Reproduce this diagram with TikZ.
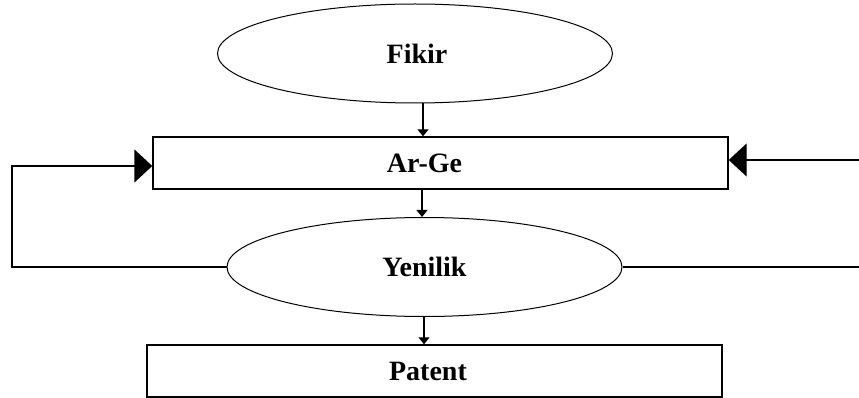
\documentclass[tikz,border=0pt]{standalone}
\usepackage{fontspec}
\setmainfont{Liberation Serif}
\usetikzlibrary{shapes.geometric,arrows.meta}
\tikzset{
  oval/.style={draw, ellipse, line width=1pt, minimum width=395pt, minimum height=99pt, inner sep=0pt},
  box/.style={draw, rectangle, line width=1.4pt, minimum width=575pt, minimum height=52pt, inner sep=0pt},
  caption/.style={font=\fontsize{28}{30}\selectfont\bfseries, inner sep=0pt},
  smallarrow/.style={line width=1.2pt, -{Triangle[length=7pt,width=11pt]}},
  bigarrow/.style={line width=1.4pt, -{Triangle[length=18pt,width=33pt]}},
  feedline/.style={line width=1.4pt}
}
\begin{document}
\begin{tikzpicture}[x=1pt,y=-1pt]
  \useasboundingbox (0,0) rectangle (859,398);

  % stages of the process
  \node[oval] (fikir) at (415,53.5) {};
  \node[caption] (fikirtext) at (417,53.5) {Fikir};
  \node[box] (arge) at (440.5,163) {};
  \node[caption] (argetext) at (424.5,163) {Ar-Ge};
  \node[oval] (yenilik) at (424.5,267) {};
  \node[caption] (yeniliktext) at (424.5,267) {Yenilik};
  \node[box] (patent) at (434.5,371) {};
  \node[caption] (patenttext) at (428,371) {Patent};

  % columns of the downward arrows
  \coordinate (colA) at (423,0);
  \coordinate (colB) at (422,0);
  \coordinate (colC) at (424,0);

  \draw[smallarrow] (fikir.south -| colA) -- (arge.north -| colA);
  \draw[smallarrow] (arge.south -| colB) -- (yenilik.north -| colB);
  \draw[smallarrow] (yenilik.south -| colC) -- (patent.north -| colC);

  % feedback loops into Ar-Ge
  \coordinate (leftcorner) at (12,267);
  \coordinate (lefttop) at (12,166);
  \coordinate (rightend) at (859,267);
  \coordinate (rightin) at (859,160);

  \draw[bigarrow] (yenilik.west) -- (leftcorner) -- (lefttop) -- (arge.west |- lefttop);
  \draw[feedline] (yenilik.east) -- (rightend);
  \draw[bigarrow] (rightin) -- (arge.east |- rightin);
\end{tikzpicture}
\end{document}
